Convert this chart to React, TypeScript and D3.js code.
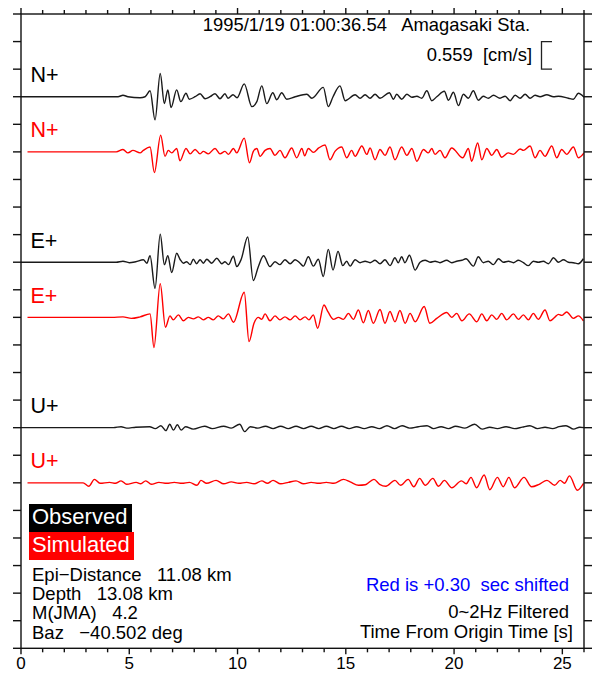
import React, { useEffect, useRef } from "react";
import * as d3 from "d3";

// [time from origin (s), velocity (cm/s)]
type Sample = [number, number];

const nObserved: Sample[] = [
  [0, 0], [4.48, 0], [4.71, 0.03], [4.94, 0], [5.5, -0.02], [5.73, 0], [5.96, 0.12], [6.19, -0.47],
  [6.43, 0.47], [6.62, -0.14], [6.78, 0.14], [6.93, -0.22], [7.19, 0.14], [7.38, -0.1], [7.62, 0.07],
  [7.77, -0.05], [8.04, 0], [8.27, 0.06], [8.5, -0.04], [8.73, 0], [8.96, 0.06], [9.19, -0.04],
  [9.42, 0.06], [9.56, -0.03], [9.79, 0.04], [9.98, -0.02], [10.31, 0.26], [10.66, -0.2], [10.89, -0.1],
  [11.12, 0.22], [11.35, -0.14], [11.63, 0.08], [11.81, -0.06], [12.04, 0.08], [12.27, -0.05], [12.66, 0],
  [13.2, 0.05], [13.43, -0.03], [13.96, 0.19], [14.19, -0.2], [14.41, 0], [14.73, 0.22], [14.97, -0.08],
  [15.43, 0.04], [15.66, -0.03], [15.89, 0.04], [16.12, -0.03], [16.35, 0.05], [16.58, -0.03],
  [17.01, 0.08], [17.2, -0.05], [17.35, 0.05], [17.58, -0.05], [17.82, 0.05], [18.05, -0.01],
  [18.28, 0.01], [18.51, -0.03], [18.74, 0.12], [18.97, -0.08], [19.2, 0], [19.55, 0.11], [19.74, -0.07],
  [19.97, 0.09], [20.2, -0.18], [20.43, 0.05], [20.66, -0.03], [20.89, 0.12], [21.12, -0.07],
  [21.35, 0.01], [21.58, -0.03], [21.82, 0.03], [22.12, -0.03], [22.36, 0.01], [22.59, -0.08],
  [22.82, 0.03], [23.05, -0.03], [23.28, 0.05], [23.51, -0.03], [23.74, 0.03], [23.97, 0], [24.28, 0.04],
  [24.59, 0], [24.82, 0.01], [25.28, -0.03], [25.51, -0.05], [25.74, 0.07], [26, -0.01],
];

const nSimulated: Sample[] = [
  [0.3, 0], [4.4, 0], [4.71, 0.05], [4.94, -0.02], [5.17, 0.03], [5.5, -0.02], [5.65, 0.03], [5.96, 0.1],
  [6.16, -0.42], [6.45, 0.34], [6.65, -0.09], [6.8, 0.03], [6.96, -0.02], [7.19, 0.07], [7.34, -0.18],
  [7.62, 0.07], [7.81, -0.04], [8.04, 0.05], [8.27, -0.04], [8.42, 0.01], [8.65, -0.04], [8.96, 0.07],
  [9.19, -0.04], [9.42, 0.01], [9.58, -0.05], [9.81, 0.07], [9.96, -0.02], [10.31, 0.28], [10.55, -0.22],
  [10.73, 0.01], [10.89, 0.07], [11.04, -0.09], [11.27, 0.03], [11.5, 0.07], [11.73, -0.07], [11.96, 0.03],
  [12.19, -0.12], [12.5, 0.08], [12.73, -0.12], [12.97, 0.07], [13.1, -0.08], [13.27, 0.07], [13.5, -0.01],
  [13.75, 0.08], [14.04, 0.14], [14.27, -0.16], [14.5, 0.01], [14.81, 0.1], [15.04, -0.12], [15.27, 0.03],
  [15.43, -0.09], [15.74, 0.12], [15.97, -0.05], [16.12, 0.08], [16.35, -0.16], [16.58, 0.05],
  [16.81, -0.07], [17.04, 0.1], [17.27, -0.16], [17.58, 0.1], [17.82, -0.07], [18.05, 0.07], [18.28, -0.19],
  [18.59, 0.05], [18.81, -0.02], [18.97, 0.07], [19.12, -0.05], [19.35, 0.03], [19.58, -0.12], [19.89, 0.08],
  [20.4, -0.12], [20.66, 0.07], [20.81, -0.19], [21.09, 0.18], [21.28, -0.16], [21.51, 0.07], [21.74, -0.07],
  [21.97, 0.05], [22.2, -0.11], [22.5, -0.02], [22.74, -0.05], [23.05, 0.06], [23.2, 0.03], [23.51, 0.12],
  [23.74, -0.12], [23.97, 0.03], [24.2, -0.09], [24.51, 0.12], [24.74, -0.12], [24.97, 0.05], [25.2, -0.05],
  [25.51, 0.1], [25.74, -0.12], [26, -0.02],
];

const eObserved: Sample[] = [
  [0, 0], [4.4, 0], [4.71, 0.02], [5.0, -0.01], [5.3, 0.01], [5.65, 0.05], [5.81, -0.02], [5.96, 0.13],
  [6.19, -0.53], [6.43, 0.57], [6.62, -0.05], [6.78, 0.13], [6.96, -0.21], [7.19, 0.18], [7.34, 0.06],
  [7.5, -0.02], [7.65, 0.01], [7.81, -0.05], [7.96, 0.06], [8.11, -0.03], [8.27, 0.05], [8.42, -0.02],
  [8.58, 0.06], [8.81, -0.02], [9.04, 0.08], [9.27, -0.03], [9.42, 0.01], [9.58, -0.05], [9.81, 0.12],
  [9.96, -0.09], [10.17, 0.06], [10.47, 0.51], [10.73, -0.37], [10.96, -0.09], [11.2, 0.13], [11.5, -0.09],
  [11.73, 0.01], [11.96, -0.05], [12.19, 0.05], [12.43, -0.03], [12.66, 0.05], [12.89, -0.02],
  [13.04, -0.08], [13.27, 0.11], [13.5, -0.08], [13.73, 0.06], [13.96, -0.29], [14.19, 0.26],
  [14.41, -0.16], [14.64, 0.22], [14.86, -0.07], [15.04, 0.02], [15.2, -0.08], [15.43, 0.05],
  [15.66, -0.01], [15.89, 0.02], [16.12, -0.01], [16.35, 0.04], [16.58, -0.03], [16.81, 0.05],
  [17.04, -0.07], [17.27, 0.09], [17.42, -0.01], [17.58, 0.11], [17.73, -0.01], [17.94, 0.14],
  [18.2, -0.16], [18.43, 0], [18.66, 0.04], [18.89, 0], [19.12, 0.02], [19.35, -0.01], [19.66, 0.04],
  [19.89, -0.01], [20.12, 0.02], [20.36, 0.04], [20.55, 0.07], [20.89, -0.08], [21.12, 0.11],
  [21.35, -0.01], [21.58, 0.02], [21.82, -0.05], [22.05, 0.07], [22.28, 0], [22.51, 0.02], [22.74, -0.01],
  [22.97, 0.04], [23.2, -0.01], [23.43, -0.07], [23.66, 0.02], [23.89, 0], [24.12, 0.02], [24.36, -0.03],
  [24.59, 0.09], [24.82, 0], [25.05, 0.05], [25.28, 0], [25.51, -0.01], [25.74, -0.03], [25.97, 0.07],
];

const eSimulated: Sample[] = [
  [0.3, 0], [4.2, 0], [4.71, 0.01], [5.1, -0.02], [5.5, 0.01], [5.96, 0.07], [6.14, -0.61], [6.43, 0.68],
  [6.67, -0.2], [6.88, 0.03], [7.03, -0.05], [7.27, 0.05], [7.5, -0.07], [7.73, 0], [7.96, -0.03],
  [8.19, 0.01], [8.42, -0.05], [8.65, 0], [8.88, -0.05], [9.11, 0.03], [9.34, -0.03], [9.58, 0.07],
  [9.81, -0.1], [10.31, 0.51], [10.53, -0.49], [10.76, -0.12], [10.96, 0], [11.12, -0.04], [11.27, 0.07],
  [11.5, -0.07], [11.73, 0.03], [11.96, -0.05], [12.19, 0.01], [12.43, -0.05], [12.66, 0.03],
  [12.89, -0.05], [13.12, 0.01], [13.3, -0.05], [13.5, 0.05], [13.7, -0.22], [13.99, 0.25], [14.18, 0.11],
  [14.43, -0.04], [14.66, 0], [14.89, -0.04], [15.12, 0.08], [15.35, -0.04], [15.58, 0.15], [15.81, -0.11],
  [16.04, 0.14], [16.27, -0.12], [16.58, 0.16], [16.81, -0.12], [17.04, 0.12], [17.27, -0.09], [17.5, 0.14],
  [17.74, -0.12], [17.97, 0.08], [18.2, -0.09], [18.62, 0.22], [18.88, -0.12], [19.2, -0.02], [19.66, 0.1],
  [19.89, 0], [20.12, 0.08], [20.36, -0.07], [20.7, 0.07], [21.05, -0.09], [21.28, 0.07], [21.51, -0.07],
  [21.74, 0.05], [21.97, -0.04], [22.2, 0.08], [22.43, -0.05], [22.74, 0.07], [22.97, -0.04], [23.2, 0.05],
  [23.43, -0.05], [23.66, 0.08], [23.89, -0.04], [24.2, 0.15], [24.43, -0.07], [24.67, 0.01], [24.82, 0.06],
  [24.97, 0.04], [25.2, 0.11], [25.51, -0.02], [25.74, 0.03], [25.97, -0.07],
];

const uObserved: Sample[] = [
  [0, 0], [4.27, 0], [4.62, 0.02], [4.88, -0.01], [5.3, 0.01], [5.94, 0.02], [6.2, -0.02], [6.46, 0.04],
  [6.69, -0.06], [6.87, 0.07], [7.04, -0.05], [7.22, 0.06], [7.4, -0.05], [7.6, 0.02], [7.95, -0.03],
  [8.48, 0.03], [8.83, -0.02], [9.36, 0.03], [9.71, -0.01], [10.1, 0.07], [10.33, -0.08], [10.59, 0.02],
  [10.94, -0.01], [11.29, 0.03], [11.64, -0.02], [11.99, 0.03], [12.35, -0.02], [12.7, 0.03], [13.05, -0.02],
  [13.4, 0.03], [13.75, -0.02], [14.1, 0.03], [14.45, -0.02], [14.8, 0.03], [15.15, -0.02], [15.5, 0.02],
  [15.85, -0.02], [16.2, 0.02], [16.55, -0.02], [16.9, 0.04], [17.25, -0.02], [17.6, 0.04], [17.95, -0.01],
  [18.35, 0.02], [18.75, 0.04], [19.05, -0.02], [19.4, 0.02], [19.75, -0.02], [20.07, 0.03], [20.5, -0.01],
  [20.95, 0.07], [21.3, -0.03], [21.65, 0.01], [22.0, -0.02], [22.4, 0.02], [22.8, -0.02], [23.15, 0.01],
  [23.5, 0.04], [23.85, -0.02], [24.2, 0.01], [24.55, -0.02], [24.85, 0.02], [25.17, 0.04], [25.52, -0.03],
  [25.8, 0.01], [26, 0],
];

const uSimulated: Sample[] = [
  [0.3, 0], [2.87, 0], [3.13, -0.07], [3.39, 0.07], [3.65, -0.01], [4.09, 0.01], [4.36, -0.01], [4.62, 0.04],
  [4.88, -0.03], [5.32, 0.01], [5.53, -0.02], [5.76, 0.04], [6.02, -0.03], [6.37, 0.01], [6.73, -0.01],
  [7.08, 0.01], [7.43, -0.01], [7.78, 0.01], [8.13, -0.05], [8.31, 0.05], [8.57, -0.01], [9.01, 0.05],
  [9.36, -0.02], [9.71, 0.02], [10.06, -0.01], [10.42, 0.01], [10.77, -0.02], [11.12, 0.04], [11.38, -0.01],
  [11.64, 0.05], [11.99, -0.02], [12.35, 0.01], [12.7, 0.04], [13.05, -0.02], [13.4, 0.01], [13.75, -0.01],
  [14.1, 0.01], [14.45, -0.01], [14.89, 0.07], [15.2, 0.02], [15.59, -0.05], [15.9, -0.04], [16.3, 0.07],
  [16.56, -0.03], [16.85, -0.07], [17.27, 0.05], [17.53, -0.05], [17.88, 0.07], [18.14, -0.08], [18.41, 0.09],
  [18.67, -0.05], [19.02, 0.09], [19.28, -0.07], [19.55, 0.05], [19.9, -0.1], [20.34, 0.04], [20.56, -0.02],
  [20.78, 0.11], [21.04, -0.1], [21.39, 0.16], [21.65, -0.14], [22.0, 0.11], [22.27, -0.08], [22.53, 0.11],
  [22.79, -0.1], [23.23, 0.11], [23.58, -0.08], [23.93, -0.03], [24.29, 0.05], [24.64, -0.05], [24.9, 0.05],
  [25.1, -0.01], [25.33, 0.14], [25.69, -0.15], [25.98, -0.01],
];

const components = ["N+", "E+", "U+"];
const observedSeries = [nObserved, eObserved, uObserved];
const simulatedSeries = [nSimulated, eSimulated, uSimulated];
const observedBase = [20, 14, 8]; // trace baselines in scale-bar units
const simulatedBase = [18, 12, 6];
const scaleBarValue = 0.559; // cm/s per unit
const timeTicks = d3.range(0, 27);
const timeLabels = [0, 5, 10, 15, 20, 25];
const unitTicks = d3.range(0, 24);
const headerText = "1995/1/19 01:00:36.54   Amagasaki Sta.";
const scaleText = "0.559  [cm/s]";
const eventInfo = ["Epi\u2212Distance   11.08 km", "Depth   13.08 km", "M(JMA)   4.2", "Baz   \u221240.502 deg"];
const legendItems = [
  { label: "Observed", color: "#000000", width: 103 },
  { label: "Simulated", color: "#ff0000", width: 105 },
];

const FONT = "'Liberation Sans', Arial, Helvetica, sans-serif";

function SeismogramChart() {
  const svgRef = useRef<SVGSVGElement>(null);

  useEffect(() => {
    const width = 592;
    const height = 678;
    const frame = { left: 21, right: 584, top: 14, bottom: 648.3 };

    const svg = d3.select(svgRef.current);
    svg.selectAll("*").remove();
    svg.attr("width", width).attr("height", height);

    const x = d3.scaleLinear().domain([0, 26]).range([frame.left, frame.right]);
    const y = d3.scaleLinear().domain([0, 23]).range([frame.bottom, frame.top]);

    svg.append("defs").append("clipPath").attr("id", "plotClip")
      .append("rect")
      .attr("x", frame.left).attr("y", frame.top)
      .attr("width", frame.right - frame.left).attr("height", frame.bottom - frame.top);

    // traces
    const traces = svg.append("g").attr("clip-path", "url(#plotClip)");
    const drawTrace = (data: Sample[], base: number, color: string) => {
      const line = d3.line<Sample>()
        .x((d) => x(d[0]))
        .y((d) => y(base + d[1] / scaleBarValue))
        .curve(d3.curveMonotoneX);
      traces.append("path")
        .attr("d", line(data))
        .attr("fill", "none")
        .attr("stroke", color)
        .attr("stroke-width", 1.4)
        .attr("stroke-linejoin", "round");
    };
    components.forEach((c, i) => {
      drawTrace(observedSeries[i], observedBase[i], "#1a1a1a");
      drawTrace(simulatedSeries[i], simulatedBase[i], "#ff0000");
    });

    // frame and ticks
    const axes = svg.append("g").attr("stroke", "#111").attr("stroke-width", 1.4);
    axes.append("rect")
      .attr("x", frame.left).attr("y", frame.top)
      .attr("width", frame.right - frame.left).attr("height", frame.bottom - frame.top)
      .attr("fill", "none");

    unitTicks.forEach((k) => {
      axes.append("line").attr("x1", frame.left - 8).attr("x2", frame.left).attr("y1", y(k)).attr("y2", y(k));
      axes.append("line").attr("x1", frame.right).attr("x2", frame.right + 8).attr("y1", y(k)).attr("y2", y(k));
    });
    timeTicks.forEach((s) => {
      const len = s % 5 === 0 ? 6 : 4;
      axes.append("line").attr("x1", x(s)).attr("x2", x(s)).attr("y1", frame.top - len).attr("y2", frame.top);
      axes.append("line").attr("x1", x(s)).attr("x2", x(s)).attr("y1", frame.bottom).attr("y2", frame.bottom + len);
    });

    svg.append("g")
      .selectAll("text")
      .data(timeLabels)
      .enter()
      .append("text")
      .attr("x", (d) => x(d))
      .attr("y", 669)
      .attr("text-anchor", "middle")
      .style("font-family", FONT)
      .style("font-size", "17px")
      .text((d) => d);

    // component labels
    components.forEach((c, i) => {
      [
        { base: observedBase[i], color: "#000" },
        { base: simulatedBase[i], color: "#ff0000" },
      ].forEach((t) => {
        svg.append("text")
          .attr("x", 30.5)
          .attr("y", y(t.base) - 14.5)
          .attr("fill", t.color)
          .style("font-family", FONT)
          .style("font-size", "21.5px")
          .text(c);
      });
    });

    const addText = (txt: string, tx: number, ty: number, anchor: string, size: number, color = "#000") =>
      svg.append("text")
        .attr("x", tx)
        .attr("y", ty)
        .attr("text-anchor", anchor)
        .attr("fill", color)
        .attr("xml:space", "preserve")
        .style("white-space", "pre")
        .style("font-family", FONT)
        .style("font-size", `${size}px`)
        .text(txt);

    // header and scale bar
    addText(headerText, 530, 30.5, "end", 18.4);
    addText(scaleText, 532, 61, "end", 18.4);
    svg.append("path")
      .attr("d", `M552,${y(22)}H541.5V${y(21)}H552`)
      .attr("fill", "none")
      .attr("stroke", "#222")
      .attr("stroke-width", 1.3);

    // legend
    legendItems.forEach((item, i) => {
      const top = 504 + i * 28;
      svg.append("rect")
        .attr("x", 29).attr("y", top)
        .attr("width", item.width).attr("height", 28)
        .attr("fill", item.color);
      addText(item.label, 32, top + 20, "start", 22, "#fff");
    });

    eventInfo.forEach((line, i) => addText(line, 32, 581 + i * 19.2, "start", 18.5));

    addText("Red is +0.30  sec shifted", 569, 591, "end", 18.5, "#0000ff");
    addText("0~2Hz Filtered", 569, 618, "end", 18.5);
    addText("Time From Origin Time [s]", 573, 638, "end", 18.5);
  }, []);

  return <svg ref={svgRef} style={{ position: "absolute", left: 0, top: 0 }}></svg>;
}

export default function App() {
  return <SeismogramChart />;
}
